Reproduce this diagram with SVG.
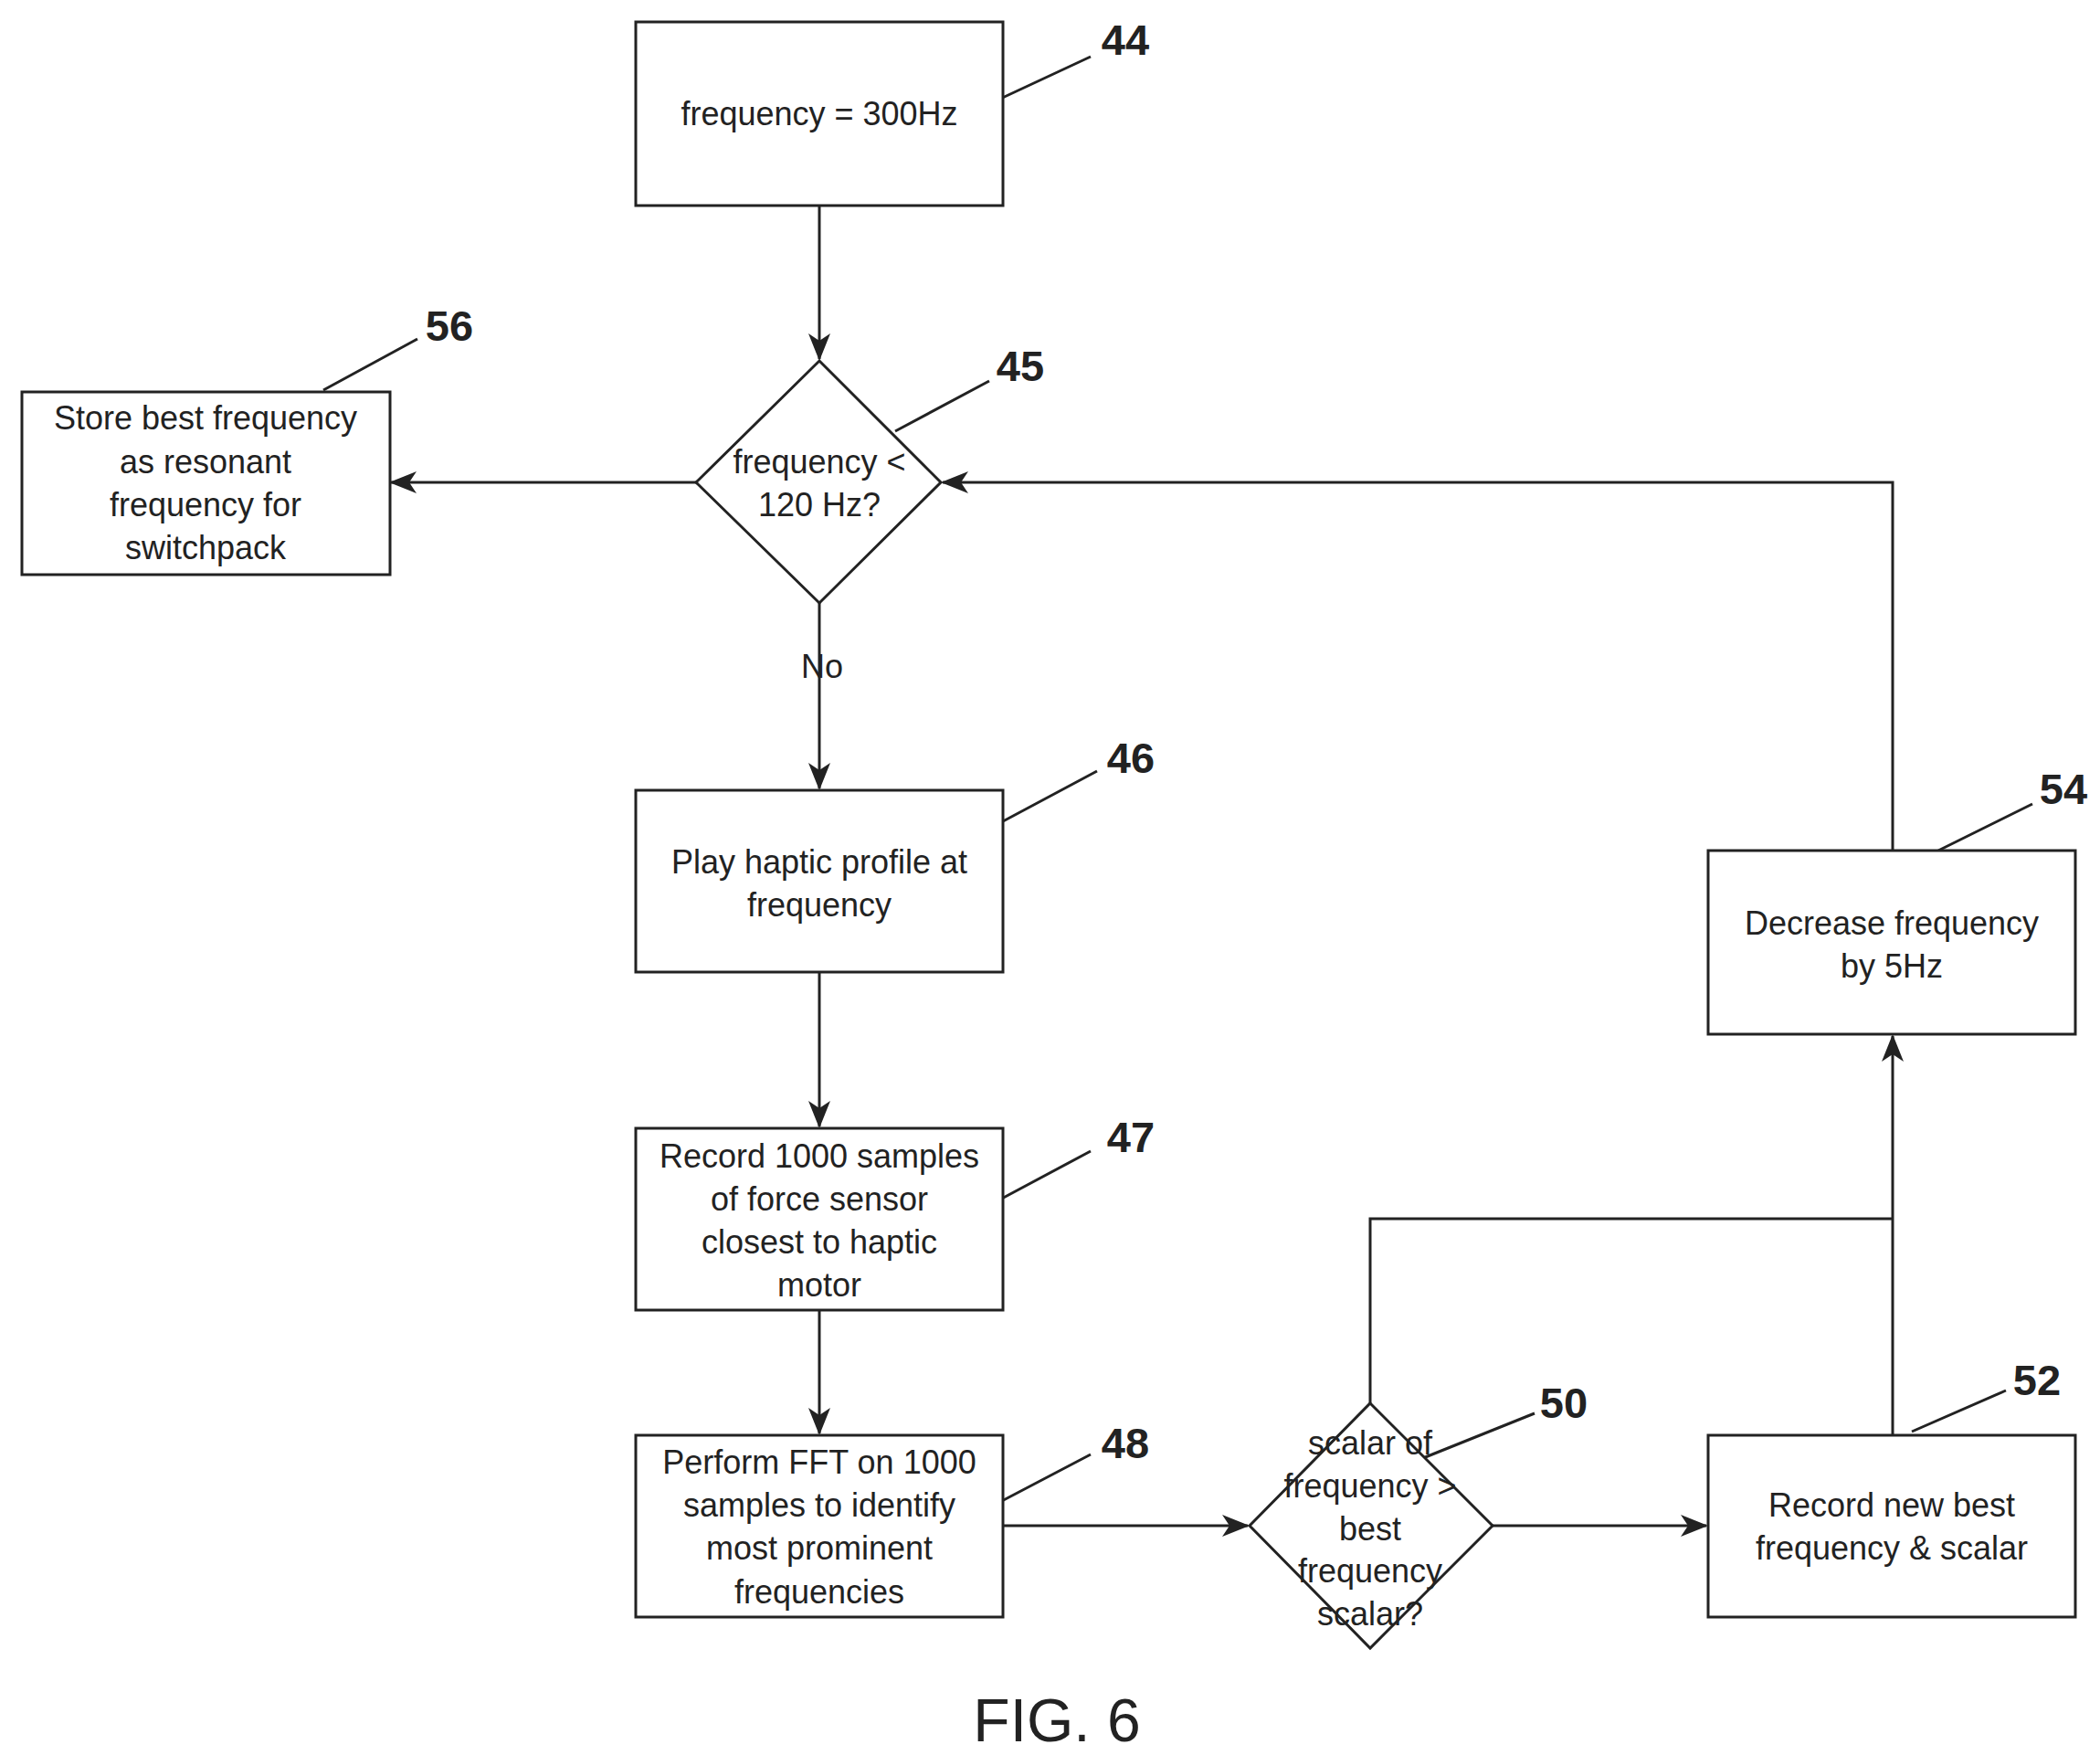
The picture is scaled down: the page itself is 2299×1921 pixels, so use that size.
<svg xmlns="http://www.w3.org/2000/svg" width="2299" height="1921" viewBox="0 0 2299 1921">
<style>
.n{fill:#fff;stroke:#222;stroke-width:3}
.t{font-family:"Liberation Sans",Arial,sans-serif;font-size:36px;fill:#222;text-anchor:middle}
.r{font-family:"Liberation Sans",Arial,sans-serif;font-size:47px;font-weight:bold;fill:#222;text-anchor:middle}
.l{stroke:#222;stroke-width:3;fill:none}
</style>
<defs><marker id="a" markerWidth="30" markerHeight="24" refX="28" refY="12" orient="auto" markerUnits="userSpaceOnUse"><path d="M0,0 L30,12 L0,24 L8,12 Z" fill="#222"/></marker></defs>
<rect width="2299" height="1921" fill="#fff"/>
<g id="connectors">
<path class="l" d="M897,225 V393" marker-end="url(#a)"/>
<path class="l" d="M762,528 H428" marker-end="url(#a)"/>
<path class="l" d="M897,660 V863" marker-end="url(#a)"/>
<path class="l" d="M897,1064 V1233" marker-end="url(#a)"/>
<path class="l" d="M897,1434 V1569" marker-end="url(#a)"/>
<path class="l" d="M1098,1670 H1366" marker-end="url(#a)"/>
<path class="l" d="M1634,1670 H1868" marker-end="url(#a)"/>
<path class="l" d="M2072,1571 V1134" marker-end="url(#a)"/>
<path class="l" d="M1500,1536 V1334 H2072"/>
<path class="l" d="M2072,931 V528 H1032" marker-end="url(#a)"/>
<text class="t" x="900" y="742">No</text>
<path class="l" d="M1091,110 L1194,62 M354,427 L457,371 M980,472 L1083,417 M1098,899 L1201,844 M1091,1315 L1194,1260 M1091,1646 L1194,1592 M1533,1606 L1680,1547 M2093,1567 L2196,1522 M2122,931 L2225,880" stroke-width="1.5"/>
</g>
<g id="n44"><rect class="n" x="696" y="24" width="402" height="201"/><text class="t" x="897" y="137">frequency = 300Hz</text><text class="r" x="1232" y="60">44</text></g>
<g id="n45"><path class="n" d="M897,395 L1030,528 L897,660 L762,528 Z"/><text class="t" x="897" y="518">frequency &lt;</text><text class="t" x="897" y="565">120 Hz?</text><text class="r" x="1117" y="417">45</text></g>
<g id="n56"><rect class="n" x="24" y="429" width="403" height="200"/><text class="t" x="225" y="470">Store best frequency</text><text class="t" x="225" y="518">as resonant</text><text class="t" x="225" y="565">frequency for</text><text class="t" x="225" y="612">switchpack</text><text class="r" x="492" y="373">56</text></g>
<g id="n46"><rect class="n" x="696" y="865" width="402" height="199"/><text class="t" x="897" y="956">Play haptic profile at</text><text class="t" x="897" y="1003">frequency</text><text class="r" x="1238" y="846">46</text></g>
<g id="n47"><rect class="n" x="696" y="1235" width="402" height="199"/><text class="t" x="897" y="1278">Record 1000 samples</text><text class="t" x="897" y="1325">of force sensor</text><text class="t" x="897" y="1372">closest to haptic</text><text class="t" x="897" y="1419">motor</text><text class="r" x="1238" y="1261">47</text></g>
<g id="n48"><rect class="n" x="696" y="1571" width="402" height="199"/><text class="t" x="897" y="1613">Perform FFT on 1000</text><text class="t" x="897" y="1660">samples to identify</text><text class="t" x="897" y="1707">most prominent</text><text class="t" x="897" y="1755">frequencies</text><text class="r" x="1232" y="1596">48</text></g>
<g id="n50"><path class="n" d="M1500,1536 L1634,1670 L1500,1804 L1368,1670 Z"/><text class="t" x="1500" y="1592">scalar of</text><text class="t" x="1500" y="1639">frequency &gt;</text><text class="t" x="1500" y="1686">best</text><text class="t" x="1500" y="1732">frequency</text><text class="t" x="1500" y="1779">scalar?</text><text class="r" x="1712" y="1552">50</text></g>
<g id="n52"><rect class="n" x="1870" y="1571" width="402" height="199"/><text class="t" x="2071" y="1660">Record new best</text><text class="t" x="2071" y="1707">frequency &amp; scalar</text><text class="r" x="2230" y="1527">52</text></g>
<g id="n54"><rect class="n" x="1870" y="931" width="402" height="201"/><text class="t" x="2071" y="1023">Decrease frequency</text><text class="t" x="2071" y="1070">by 5Hz</text><text class="r" x="2259" y="880">54</text></g>
<text x="1157" y="1906" font-family="Liberation Sans,Arial,sans-serif" font-size="66" fill="#222" text-anchor="middle">FIG. 6</text>
</svg>
